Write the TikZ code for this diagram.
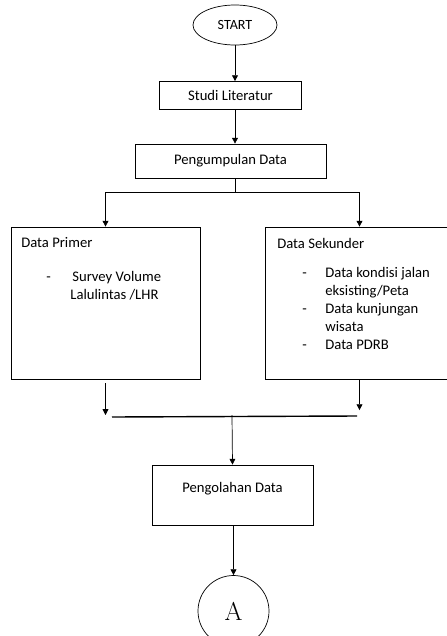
\documentclass[tikz,border=0pt]{standalone}
\usepackage{fontspec}
\newfontfamily\calibri{Carlito}
\usetikzlibrary{shapes.geometric,arrows.meta}

\tikzset{
  box/.style={draw, rectangle, inner sep=0pt, font=\calibri\fontsize{12.5}{15.4}\selectfont},
  arr/.style={-{Triangle[length=5pt,width=5pt]}},
  txt/.style={inner sep=0pt, align=left, font=\calibri\fontsize{12.5}{15.4}\selectfont}
}

\begin{document}
\begin{tikzpicture}[x=0.03cm, y=-0.03cm, line width=0.6pt]
\useasboundingbox (0,0) rectangle (447,636);
\node[draw, ellipse, minimum width=2.52cm, minimum height=1.2cm, inner sep=0pt,
  font=\calibri\fontsize{12}{14}\selectfont] (start) at (235,25) {START};
\node[box, minimum width=4.26cm, minimum height=0.84cm] (studi) at (230.5,95.5) {Studi Literatur};
\node[box, minimum width=5.73cm, minimum height=1.02cm] (kumpul) at (230.5,161) {Pengumpulan Data};
\node[box, minimum width=5.67cm, minimum height=4.56cm] (primer) at (105.5,303) {};
\node[box, minimum width=5.67cm, minimum height=4.56cm] (sekunder) at (359.5,303) {};
\node[box, minimum width=4.83cm, minimum height=1.8cm, text height=0.24cm, text depth=0.42cm] (olah) at (232.5,495) {Pengolahan Data};
\node[draw, ellipse, minimum width=2.13cm, minimum height=2.13cm, inner sep=0pt,
  font=\fontsize{22}{24}\selectfont] (akhir) at (233.5,611) {A};

\node[txt, anchor=west] (judulP) at (21,243) {Data Primer};
\node[txt, anchor=north west] (isiP) at (46,271)
  {\makebox[0.78cm][l]{-}Survey Volume\\\makebox[0.72cm][l]{}Lalulintas /LHR};
\node[txt, anchor=west] (judulS) at (277,243) {Data Sekunder};
\node[txt, anchor=north west] (isiS) at (302,267)
  {\makebox[0.69cm][l]{-}Data kondisi jalan\\
   \makebox[0.69cm][l]{}eksisting/Peta\\
   \makebox[0.69cm][l]{-}Data kunjungan\\
   \makebox[0.69cm][l]{}wisata\\
   \makebox[0.69cm][l]{-}Data PDRB};

\coordinate (bagi) at (235,192);
\coordinate (gabungL) at (112,417);
\coordinate (gabungR) at (357,416);
\coordinate (gabung) at (232,415);

\draw[arr] (start.south -| bagi) -- (studi.north -| bagi);
\draw[arr] (studi.south -| bagi) -- (kumpul.north -| bagi);
\draw (kumpul.south -| bagi) -- (bagi);
\draw[arr] (bagi) -| (primer.north);
\draw[arr] (bagi) -| (sekunder.north);
\draw[arr] ([yshift=-3.4pt]primer.south) -- ([yshift=1.7pt]primer.south |- gabungL);
\draw[arr] (sekunder.south) -- ([yshift=5pt]sekunder.south |- gabungR);
\draw[line width=1.2pt] (gabungL) -- (gabungR);
\draw[arr] (gabung) -- (olah.north);
\draw[arr] (olah.south -| akhir) -- (akhir.north);
\end{tikzpicture}
\end{document}
